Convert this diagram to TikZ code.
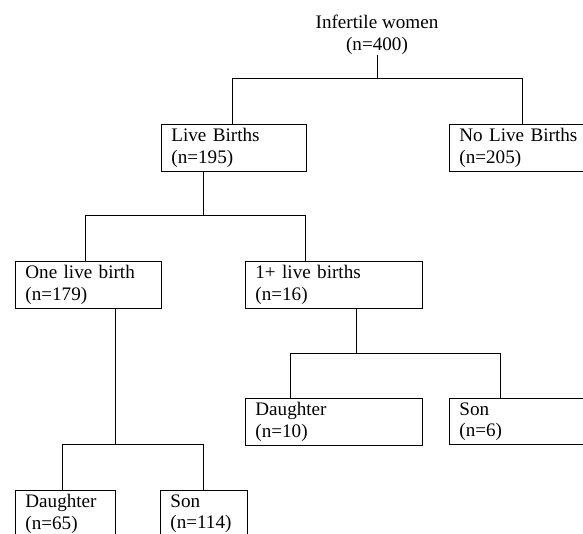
\documentclass[tikz,border=0pt]{standalone}
\usepackage{fontspec}
\setmainfont{Liberation Serif}
\usetikzlibrary{positioning}

\begin{document}
\begin{tikzpicture}[
    x = 0.025cm, y = -0.025cm,
    every node/.style = {font = \fontsize{13.6}{15.4}\selectfont},
    box/.style = {shape = rectangle, draw, line width = 0.6pt, anchor = north west, align = left, minimum height = 1.15cm, inner xsep = 0.25cm, inner ysep = 0.1cm},
    link/.style = {line width = 0.6pt},
    ]
    \useasboundingbox (0, 0) rectangle (583, 533);

    \node[align = center, inner sep = 0] (root) at (377, 35) {Infertile women\\(n=400)};

    \node[box, text width = 3.125cm] (LB) at (161, 124) {Live Births\\(n=195)};
    \node[box, text width = 3.15cm] (NLB) at (449, 124) {No Live Births\\(n=205)};

    \node[box, text width = 3.15cm] (OLB) at (15, 261) {One live birth\\(n=179)};
    \node[box, text width = 3.925cm] (MLB) at (245, 261) {1+ live births\\(n=16)};

    \node[box, text width = 2cm] (D1) at (15, 490) {Daughter\\(n=65)};
    \node[box, text width = 1.675cm] (S1) at (160, 490) {Son\\(n=114)};

    \node[box, text width = 3.925cm] (D2) at (245, 398) {Daughter\\(n=10)};
    \node[box, text width = 3.15cm] (S2) at (449, 398) {Son\\(n=6)};

    % first split
    \coordinate (J1) at (377, 78);
    \coordinate (J1l) at (232, 78);
    \coordinate (J1r) at (522, 78);
    \draw[link] (root.south) -- (J1);
    \draw[link] (J1l) -- (J1r);
    \draw[link] (J1l) -- (J1l |- LB.north);
    \draw[link] (J1r) -- (J1r |- NLB.north);

    % live births
    \coordinate (J2) at (203, 215);
    \coordinate (J2l) at (85, 215);
    \coordinate (J2r) at (305, 215);
    \draw[link] (J2 |- LB.south) -- (J2);
    \draw[link] (J2l) -- (J2r);
    \draw[link] (J2l) -- (J2l |- OLB.north);
    \draw[link] (J2r) -- (J2r |- MLB.north);

    % one live birth
    \coordinate (J3) at (115, 444);
    \coordinate (J3l) at (62, 444);
    \coordinate (J3r) at (203, 444);
    \draw[link] (J3 |- OLB.south) -- (J3);
    \draw[link] (J3l) -- (J3r);
    \draw[link] (J3l) -- (J3l |- D1.north);
    \draw[link] (J3r) -- (J3r |- S1.north);

    % 1+ live births
    \coordinate (J4) at (356, 353);
    \coordinate (J4l) at (290, 353);
    \coordinate (J4r) at (500, 353);
    \draw[link] (J4 |- MLB.south) -- (J4);
    \draw[link] (J4l) -- (J4r);
    \draw[link] (J4l) -- (J4l |- D2.north);
    \draw[link] (J4r) -- (J4r |- S2.north);
\end{tikzpicture}
\end{document}
